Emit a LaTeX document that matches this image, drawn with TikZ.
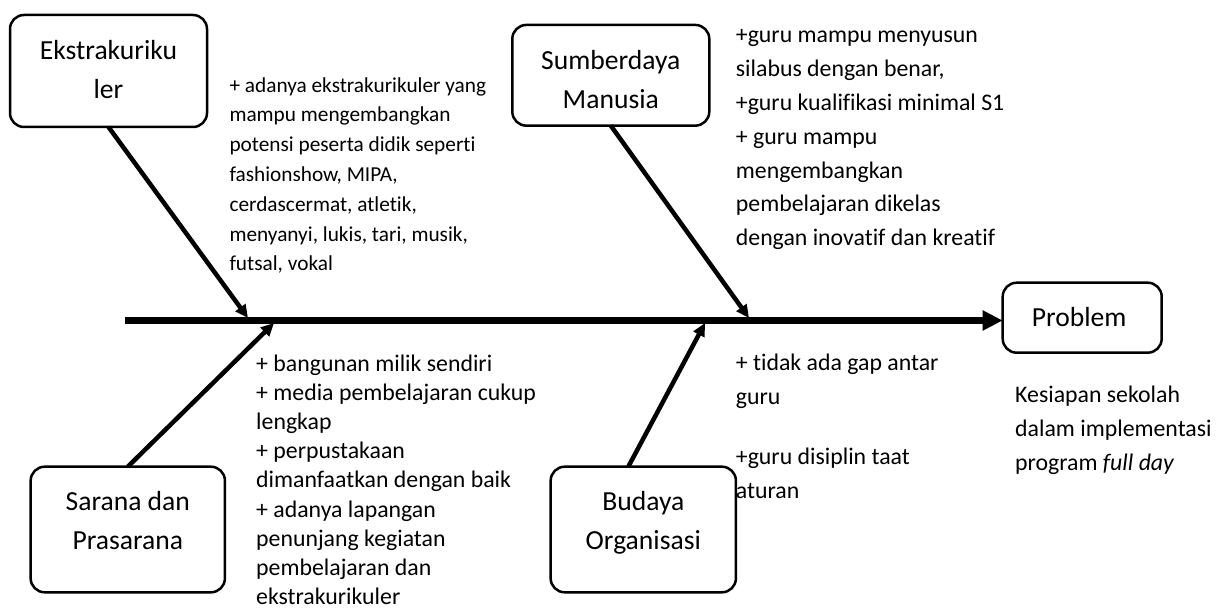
\documentclass[tikz,border=0pt]{standalone}
\usepackage{fontspec}
\setmainfont{Carlito}[Ligatures={NoCommon,NoRequired}]
\usetikzlibrary{arrows.meta}
\begin{document}
\begin{tikzpicture}[x=1pt,y=-1pt,
  cbox/.style={draw, line width=2.5pt, rounded corners=14pt, inner sep=0pt, outer sep=0pt},
  boxtext/.style={font=\fontsize{27.6}{39}\selectfont, align=center, inner sep=0pt, anchor=north},
  note/.style={inner sep=0pt, anchor=north west, align=left},
  bone/.style={line width=4.5pt, -{Triangle[length=13pt,width=12pt]}},
  spine/.style={line width=6.5pt, -{Triangle[length=20pt,width=19pt]}}]
\useasboundingbox (0,0) rectangle (1216,609);

% boxes
\node[cbox, minimum width=197pt, minimum height=112pt] (ek) at (108.5,71) {};
\node[cbox, minimum width=197pt, minimum height=100.7pt] (sd) at (610.8,75.3) {};
\node[cbox, minimum width=194.3pt, minimum height=125.6pt] (sp) at (127.8,529.5) {};
\node[cbox, minimum width=185.3pt, minimum height=125.6pt] (bo) at (643.3,529.5) {};
\node[cbox, minimum width=159pt, minimum height=70pt] (pr) at (1082.2,317.7) {};

% box texts
\node[boxtext] (ekt) at ([yshift=-16.7pt]ek.north) {\strut Ekstrakuriku\\ler};
\node[boxtext] (sdt) at ([yshift=-16.7pt]sd.north) {\strut Sumberdaya\\Manusia};
\node[boxtext] (spt) at ([yshift=-16.7pt]sp.north) {\strut Sarana dan\\Prasarana};
\node[boxtext] (bot) at ([yshift=-16.7pt]bo.north) {\strut Budaya\\Organisasi};
\node[boxtext] (prt) at ([yshift=-16.7pt,xshift=-3pt]pr.north) {\strut Problem};

% notes
\node[note, font=\fontsize{21.3}{29.8}\selectfont] (ekn) at (229.3,71.1)
  {\strut + adanya ekstrakurikuler yang\\mampu mengembangkan\\potensi peserta didik seperti\\fashionshow, MIPA,\\cerdascermat, atletik,\\menyanyi, lukis, tari, musik,\\futsal, vokal};
\node[note, font=\fontsize{23.8}{33.8}\selectfont] (sdn) at (735.7,19.0)
  {\strut +guru mampu menyusun\\silabus dengan benar,\\+guru kualifikasi minimal S1\\+ guru mampu\\mengembangkan\\pembelajaran dikelas\\dengan inovatif dan kreatif};
\node[note, font=\fontsize{23.8}{29.1}\selectfont] (spn) at (256,351.0)
  {\strut + bangunan milik sendiri\\+ media pembelajaran cukup\\lengkap\\+ perpustakaan\\dimanfaatkan dengan baik\\+ adanya lapangan\\penunjang kegiatan\\pembelajaran dan\\ekstrakurikuler};
\node[note, font=\fontsize{23.8}{34}\selectfont] (bon) at (735.7,346.7)
  {\strut + tidak ada gap antar\\guru\\[26pt]+guru disiplin taat\\aturan};
\node[note, font=\fontsize{23.8}{34}\selectfont] (prn) at (1015,378.9)
  {\strut Kesiapan sekolah\\dalam implementasi\\program \textit{full day}};

% spine and bones
\coordinate (s0) at (125,320.5);
\coordinate (j1) at (248,318);
\coordinate (j2) at (749,318);
\coordinate (j3) at (274,323);
\coordinate (j4) at (705,323);
\draw[spine] (s0) -- (s0 -| pr.west);
\draw[bone] (ek.south) -- (j1);
\draw[bone] (sd.south) -- (j2);
\draw[bone] (sp.north) -- (j3);
\draw[bone] ([xshift=-15pt]bo.north) -- (j4);
\end{tikzpicture}
\end{document}
